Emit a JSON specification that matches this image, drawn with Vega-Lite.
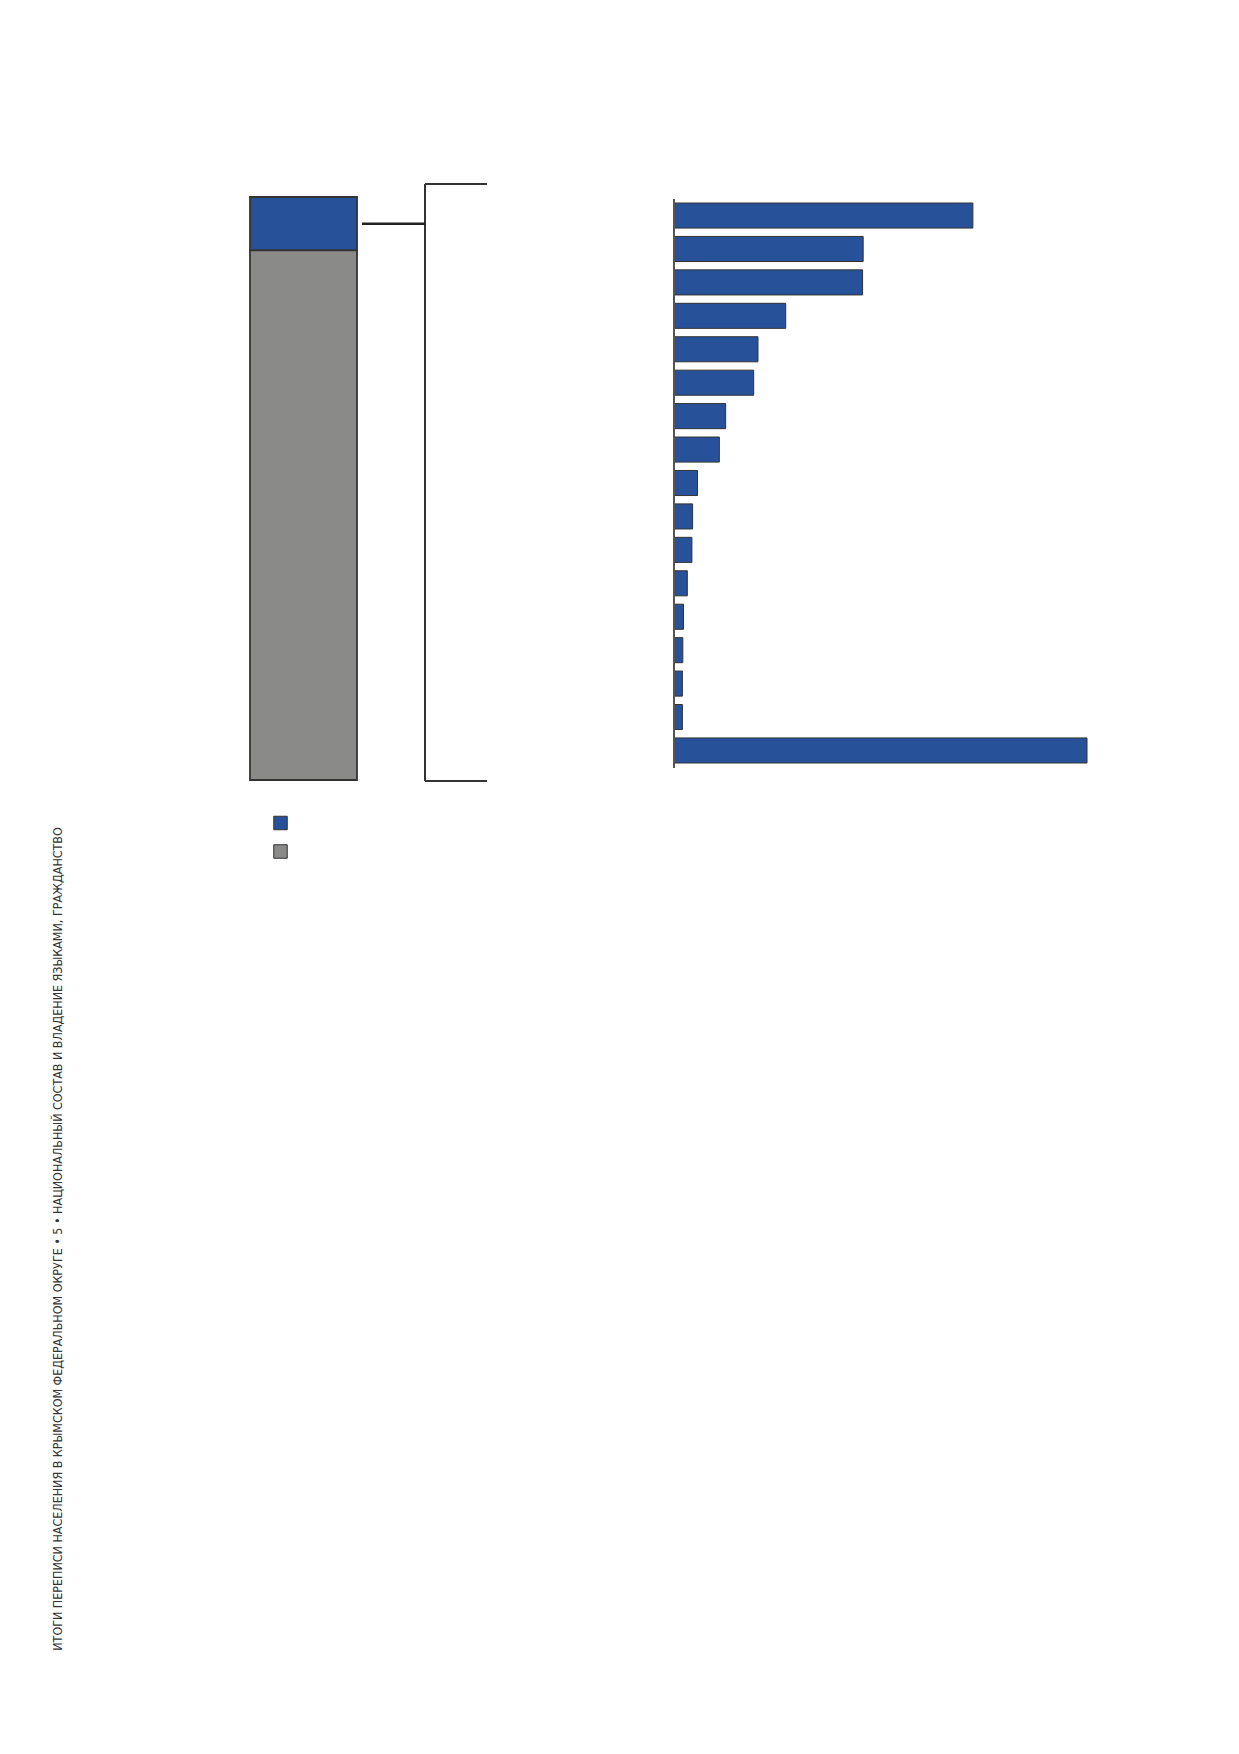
{
  "$schema": "https://vega.github.io/schema/vega-lite/v6.json",
  "width": 1239,
  "height": 1754,
  "padding": 0,
  "autosize": {"type": "none"},
  "background": "#ffffff",
  "config": {"view": {"stroke": null}},
  "layer": [
    {
      "data": {"values": [
        {"group": "Всего", "part": "Выделенная группа", "share": 9.15, "ord": 2},
        {"group": "Всего", "part": "Остальное население", "share": 90.85, "ord": 1}
      ]},
      "mark": {"type": "bar", "stroke": "#333333", "strokeWidth": 1.8},
      "encoding": {
        "x": {"field": "group", "type": "nominal", "axis": null,
              "scale": {"range": [250, 357], "paddingInner": 0, "paddingOuter": 0}},
        "y": {"field": "share", "type": "quantitative", "stack": "zero", "axis": null,
              "scale": {"domain": [0, 100], "range": [780, 197], "nice": false}},
        "order": {"field": "ord", "type": "quantitative"},
        "color": {"field": "part", "type": "nominal",
                  "scale": {"domain": ["Выделенная группа", "Остальное население"], "range": ["#27529a", "#8a8a89"]},
                  "legend": {"orient": "none", "legendX": 273, "legendY": 815.5, "title": null,
                             "symbolType": "square", "symbolSize": 182, "symbolStrokeColor": "#333333",
                             "symbolStrokeWidth": 1, "symbolOpacity": 1, "labelExpr": "''",
                             "rowPadding": 9.5, "padding": 0}}
      }
    },
    {
      "data": {"values": [{}]},
      "layer": [
        {"mark": {"type": "rule", "stroke": "#333333", "strokeWidth": 2},
         "encoding": {
           "x": {"datum": 0, "scale": {"domain": [0, 1], "range": [425, 487]}, "axis": null},
           "y": {"datum": 0, "scale": {"domain": [0, 1], "range": [184, 781]}, "axis": null},
           "y2": {"datum": 1}}},
        {"mark": {"type": "rule", "stroke": "#333333", "strokeWidth": 2},
         "encoding": {"x": {"datum": 0}, "x2": {"datum": 1}, "y": {"datum": 0}}},
        {"mark": {"type": "rule", "stroke": "#333333", "strokeWidth": 2},
         "encoding": {"x": {"datum": 0}, "x2": {"datum": 1}, "y": {"datum": 1}}},
        {"mark": {"type": "rule", "stroke": "#222222", "strokeWidth": 2.5},
         "encoding": {"x": {"datum": -1.016}, "x2": {"datum": 0}, "y": {"datum": 0.0665}}}
      ]
    },
    {
      "data": {"values": [
        {"n": 1, "value": 298.6},
        {"n": 2, "value": 189.0},
        {"n": 3, "value": 188.4},
        {"n": 4, "value": 111.6},
        {"n": 5, "value": 83.9},
        {"n": 6, "value": 79.6},
        {"n": 7, "value": 51.6},
        {"n": 8, "value": 45.3},
        {"n": 9, "value": 23.5},
        {"n": 10, "value": 18.6},
        {"n": 11, "value": 17.9},
        {"n": 12, "value": 13.3},
        {"n": 13, "value": 9.5},
        {"n": 14, "value": 8.8},
        {"n": 15, "value": 8.4},
        {"n": 16, "value": 8.4},
        {"n": 17, "value": 412.6}
      ]},
      "layer": [
        {"mark": {"type": "bar", "fill": "#27529a", "stroke": "#333333", "strokeWidth": 1},
         "encoding": {
           "x": {"field": "value", "type": "quantitative", "axis": null,
                 "scale": {"domain": [0, 412.6], "range": [674, 1087], "nice": false, "zero": true}},
           "y": {"field": "n", "type": "ordinal", "axis": null,
                 "scale": {"range": [203, 763], "paddingInner": 0.25, "paddingOuter": 0}}
         }},
        {"data": {"values": [{}]},
         "mark": {"type": "rule", "stroke": "#555555", "strokeWidth": 2},
         "encoding": {
           "x": {"datum": 0},
           "y": {"datum": 0, "scale": {"domain": [0, 1], "range": [199, 768]}, "axis": null},
           "y2": {"datum": 1}
         }}
      ],
      "resolve": {"scale": {"y": "independent"}}
    },
    {
      "data": {"values": [{"t": "ИТОГИ ПЕРЕПИСИ НАСЕЛЕНИЯ В КРЫМСКОМ ФЕДЕРАЛЬНОМ ОКРУГЕ • 5 • НАЦИОНАЛЬНЫЙ СОСТАВ И ВЛАДЕНИЕ ЯЗЫКАМИ, ГРАЖДАНСТВО"}]},
      "mark": {"type": "text", "angle": 270, "align": "center", "baseline": "middle",
               "font": "DejaVu Sans Condensed", "fontSize": 12.4, "fill": "#333333"},
      "encoding": {
        "text": {"field": "t"},
        "x": {"datum": 0.5, "scale": {"domain": [0, 1], "range": [40, 76]}, "axis": null},
        "y": {"datum": 0.5, "scale": {"domain": [0, 1], "range": [829, 1649]}, "axis": null}
      }
    }
  ],
  "resolve": {"scale": {"x": "independent", "y": "independent", "color": "independent"}}
}
